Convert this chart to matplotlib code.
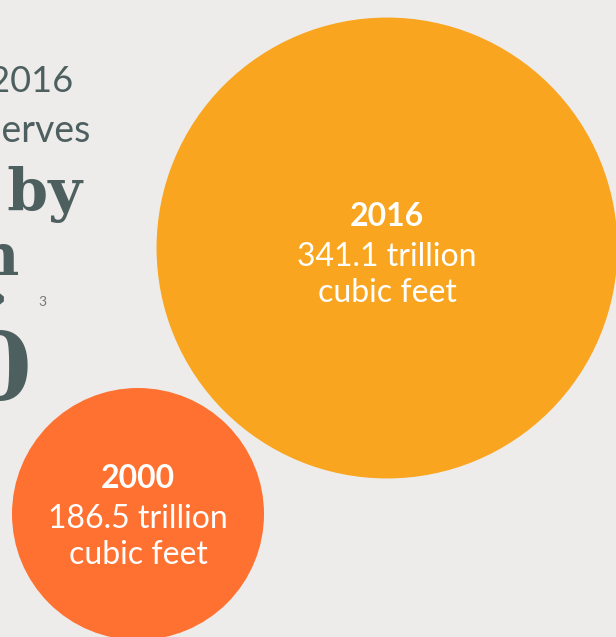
import matplotlib.pyplot as plt
from matplotlib.patches import Circle

years = ['2000', '2016']
reserves = [186.5, 341.1]  # trillion cubic feet
colors = ['#FF7131', '#F9A51F']

bg = '#EDECEA'
ink = '#4D5F5F'

fig = plt.figure(figsize=(6.16, 6.37), dpi=100, facecolor=bg)
ax = fig.add_axes([0, 0, 1, 1])
ax.set_facecolor(bg)
ax.set_xlim(0, 616)
ax.set_ylim(637, 0)
ax.set_aspect('equal')
ax.axis('off')

# radius proportional to value
px_per_tcf = 126 / 186.5
centers = [(138, 512), (387, 250)]

for yr, val, col, (cx, cy) in zip(years, reserves, colors, centers):
    r = val * px_per_tcf
    cy_c = 514 if yr == '2000' else 248
    ax.add_patch(Circle((cx, cy_c), r, color=col, lw=0))
    ax.text(cx, cy - 24, yr, color='white', fontsize=23, fontweight='bold',
            family='Lato', ha='center', va='baseline')
    ax.text(cx, cy + 16, f'{val} trillion', color='white', fontsize=23,
            family='Lato', ha='center', va='baseline')
    ax.text(cx, cy + 52, 'cubic feet', color='white', fontsize=23,
            family='Lato', ha='center', va='baseline')

# title text cut off at left edge
ax.text(73, 92, 'Proved reserves, 2000-2016', color=ink, fontsize=26,
        family='Lato', ha='right', va='baseline')
ax.text(90, 142, 'Natural gas reserves', color=ink, fontsize=27,
        family='Lato', ha='right', va='baseline')
ax.text(82, 210, 'Grew by', color=ink, fontsize=42, fontweight='bold',
        family='DejaVu Serif', ha='right', va='baseline')
ax.text(20, 275, 'from', color=ink, fontsize=42, fontweight='bold',
        family='DejaVu Serif', ha='right', va='baseline')
ax.text(8, 300, '\u203a', color=ink, fontsize=42, fontweight='bold',
        family='DejaVu Serif', ha='right', va='center')
ax.text(46, 306, '3', color='#777777', fontsize=10,
        family='Lato', ha='right', va='baseline')
ax.text(33, 400, '2000', color=ink, fontsize=67, fontweight='bold',
        family='DejaVu Serif', ha='right', va='baseline')

fig.savefig('out.png', dpi=100, facecolor=bg)
